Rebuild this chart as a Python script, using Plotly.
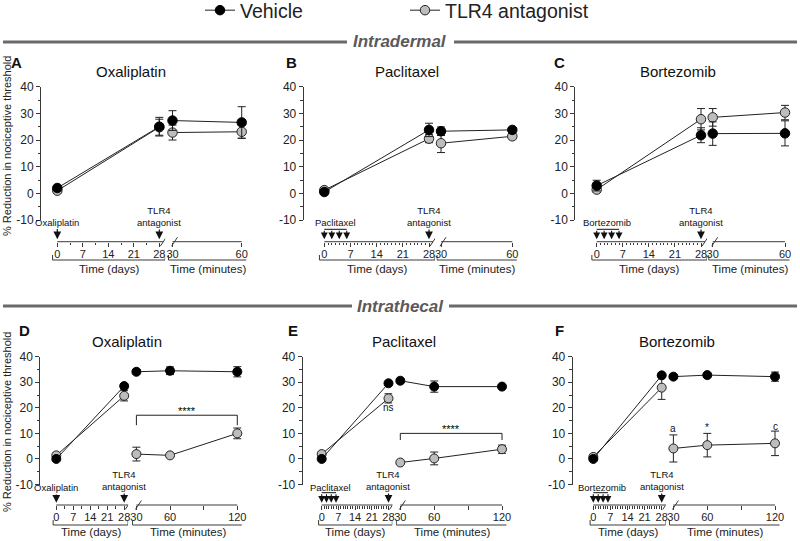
import plotly.graph_objects as go

W, H = 800, 541
FONT = "Liberation Sans, Arial, Helvetica, sans-serif"
AX = "#3a3a3a"

# ------------------------- data -------------------------
days = [0, 28]
minutes_id = [30, 60]
minutes_it = [30, 60, 120]

titles = ["Oxaliplatin", "Paclitaxel", "Bortezomib", "Oxaliplatin", "Paclitaxel", "Bortezomib"]
letters = ["A", "B", "C", "D", "E", "F"]
series_names = ["Vehicle", "TLR4 antagonist"]

# Panel A - intradermal oxaliplatin
a_veh_days = [2.0, 25.0]
a_veh_days_err = [1.0, 3.5]
a_tlr_days = [1.0, 24.8]
a_tlr_days_err = [1.0, 3.0]
a_veh_min = [27.3, 26.6]
a_veh_min_err = [3.7, 5.9]
a_tlr_min = [22.8, 23.1]
a_tlr_min_err = [2.8, 2.5]

# Panel B - intradermal paclitaxel
b_veh_days = [0.5, 23.8]
b_veh_days_err = [0.8, 2.5]
b_tlr_days = [1.2, 20.5]
b_tlr_days_err = [0.8, 1.5]
b_veh_min = [23.3, 23.8]
b_veh_min_err = [1.6, 0.8]
b_tlr_min = [18.8, 21.4]
b_tlr_min_err = [3.5, 1.0]

# Panel C - intradermal bortezomib
c_veh_days = [2.9, 21.8]
c_veh_days_err = [2.0, 2.8]
c_tlr_days = [1.4, 27.8]
c_tlr_days_err = [1.0, 4.0]
c_veh_min = [22.4, 22.5]
c_veh_min_err = [4.4, 4.7]
c_tlr_min = [28.5, 30.3]
c_tlr_min_err = [3.3, 2.7]

# Panel D - intrathecal oxaliplatin
d_veh_days = [0.0, 28.5]
d_veh_days_err = [0.5, 1.0]
d_tlr_days = [1.4, 24.7]
d_tlr_days_err = [0.8, 2.0]
d_veh_min = [34.1, 34.5, 34.1]
d_veh_min_err = [0.8, 1.5, 2.0]
d_tlr_min = [1.9, 1.4, 10.0]
d_tlr_min_err = [2.7, 0.6, 2.1]

# Panel E - intrathecal paclitaxel
e_veh_days = [0.0, 29.6]
e_veh_days_err = [0.5, 0.8]
e_tlr_days = [1.9, 23.7]
e_tlr_days_err = [0.8, 1.8]
e_veh_min = [30.6, 28.3, 28.3]
e_veh_min_err = [0.8, 2.2, 0.8]
e_tlr_min = [-1.4, 0.2, 3.8]
e_tlr_min_err = [0.6, 2.5, 1.6]

# Panel F - intrathecal bortezomib
f_veh_days = [0.0, 32.7]
f_veh_days_err = [0.5, 0.8]
f_tlr_days = [0.8, 27.9]
f_tlr_days_err = [0.8, 4.6]
f_veh_min = [32.2, 32.8, 32.2]
f_veh_min_err = [0.8, 0.8, 1.8]
f_tlr_min = [4.1, 5.4, 6.1]
f_tlr_min_err = [5.3, 4.6, 4.8]

y_tickvals = [-10, 0, 10, 20, 30, 40]
y_minor = [-5, 5, 15, 25, 35]
day_tickvals = [0, 7, 14, 21, 28]
day_ticktext = ["0", "7", "14", "21", "28"]
min_tickvals_id = [30, 60]
min_ticktext_id = ["30", "60"]
min_tickvals_it = [30, 60, 90, 120]
min_ticktext_it = ["30", "60", "", "120"]
multi_dose_days = [0, 2, 4, 6]

panels = [
    dict(vd=a_veh_days, vde=a_veh_days_err, td=a_tlr_days, tde=a_tlr_days_err,
         vm=a_veh_min, vme=a_veh_min_err, tm=a_tlr_min, tme=a_tlr_min_err, mins=minutes_id),
    dict(vd=b_veh_days, vde=b_veh_days_err, td=b_tlr_days, tde=b_tlr_days_err,
         vm=b_veh_min, vme=b_veh_min_err, tm=b_tlr_min, tme=b_tlr_min_err, mins=minutes_id),
    dict(vd=c_veh_days, vde=c_veh_days_err, td=c_tlr_days, tde=c_tlr_days_err,
         vm=c_veh_min, vme=c_veh_min_err, tm=c_tlr_min, tme=c_tlr_min_err, mins=minutes_id),
    dict(vd=d_veh_days, vde=d_veh_days_err, td=d_tlr_days, tde=d_tlr_days_err,
         vm=d_veh_min, vme=d_veh_min_err, tm=d_tlr_min, tme=d_tlr_min_err, mins=minutes_it),
    dict(vd=e_veh_days, vde=e_veh_days_err, td=e_tlr_days, tde=e_tlr_days_err,
         vm=e_veh_min, vme=e_veh_min_err, tm=e_tlr_min, tme=e_tlr_min_err, mins=minutes_it),
    dict(vd=f_veh_days, vde=f_veh_days_err, td=f_tlr_days, tde=f_tlr_days_err,
         vm=f_veh_min, vme=f_veh_min_err, tm=f_tlr_min, tme=f_tlr_min_err, mins=minutes_it),
]

# ------------------------- geometry (pixels) -------------------------
def px(x):
    return x / W


def py(y):
    return 1 - y / H


rows = [
    dict(y40=86.7, ym10=220.0, xline=241.7, bracket=260.0, tlabel=268.5, ylab=146, msize=9.5,
         drug_y=222.0, comb_y=229.3, tip=239.3, tlr_y=216.5, title_y=71.7, letter_y=62.5),
    dict(y40=356.7, ym10=484.5, xline=505.0, bracket=525.0, tlabel=532.0, ylab=422, msize=9,
         drug_y=487.5, comb_y=492.7, tip=502.8, tlr_y=480.5, title_y=341.7, letter_y=330.0),
]

geo = [
    dict(row=0, yax=40.0, d0=57.3, d28=159.3, m30=172.5, mend=241.7, endv=60, tx=130.7, lx=9, single=True, drug_x=60.0, minor_dense=False),
    dict(row=0, yax=302.7, d0=324.3, d28=429.0, m30=441.0, mend=512.3, endv=60, tx=407.3, lx=284, single=False, drug_x=335.7, minor_dense=True),
    dict(row=0, yax=574.3, d0=596.7, d28=701.0, m30=712.7, mend=785.0, endv=60, tx=677.5, lx=552, single=False, drug_x=607.0, minor_dense=True),
    dict(row=1, yax=39.3, d0=56.3, d28=124.2, m30=136.4, mend=237.3, endv=120, tx=127.0, lx=17, single=True, drug_x=57.5, minor_dense=False),
    dict(row=1, yax=301.7, d0=321.7, d28=388.5, m30=400.3, mend=502.0, endv=120, tx=404.0, lx=286, single=False, drug_x=330.5, minor_dense=True),
    dict(row=1, yax=571.7, d0=593.3, d28=661.7, m30=673.4, mend=775.0, endv=120, tx=676.7, lx=553, single=False, drug_x=601.5, minor_dense=True),
]

fig = go.Figure()
layout = dict(
    width=W, height=H, margin=dict(l=0, r=0, t=0, b=0, autoexpand=False),
    paper_bgcolor="white", plot_bgcolor="rgba(0,0,0,0)",
    font=dict(family=FONT, color="#222"),
    showlegend=True,
    legend=dict(orientation="h", x=px(200), y=py(10.5), xanchor="left", yanchor="middle",
                font=dict(size=19.5, color="#222"), entrywidth=160, entrywidthmode="pixels",
                bgcolor="rgba(0,0,0,0)", traceorder="normal", itemclick=False),
)
shapes = []
annotations = []

VEH_MARK = "#000000"
TLR_MARK = "#bdbdbd"

for i, (g, p) in enumerate(zip(geo, panels)):
    r = rows[g["row"]]
    yn = i + 1
    xd = 2 * i + 1
    xm = 2 * i + 2
    yref = "y" if yn == 1 else f"y{yn}"
    xdref = "x" if xd == 1 else f"x{xd}"
    xmref = f"x{xm}"
    yname = "yaxis" if yn == 1 else f"yaxis{yn}"
    xdname = "xaxis" if xd == 1 else f"xaxis{xd}"
    xmname = f"xaxis{xm}"

    sd = (g["d28"] - g["d0"]) / 28.0
    sm = (g["mend"] - g["m30"]) / (g["endv"] - 30.0)
    dr = [-2.0, 29.6]
    mpad = 4.5 / sm
    mr = [30 - mpad, g["endv"] + mpad]

    layout[yname] = dict(
        domain=[py(r["ym10"]), py(r["y40"])], range=[-10, 40], anchor="free", position=px(g["yax"]),
        showline=True, linecolor=AX, linewidth=1, ticks="outside", ticklen=4, tickwidth=1, tickcolor=AX,
        tickmode="array", tickvals=y_tickvals, ticktext=[str(v) for v in y_tickvals],
        tickfont=dict(size=12, color="#222"),
        minor=dict(tickmode="array", tickvals=y_minor, ticks="outside", ticklen=2.5, tickcolor=AX, showgrid=False),
        showgrid=False, zeroline=False, fixedrange=True,
    )
    if g["minor_dense"]:
        dminor = [d for d in range(1, 28) if d % 7 != 0]
    else:
        dminor = [3.5, 10.5, 17.5, 24.5]
    layout[xdname] = dict(
        domain=[px(g["d0"] + dr[0] * sd), px(g["d0"] + dr[1] * sd)], range=dr,
        anchor="free", position=py(r["xline"]), showline=False,
        ticks="outside", ticklen=4, tickwidth=1, tickcolor=AX, ticklabelstandoff=-2,
        tickmode="array", tickvals=day_tickvals, ticktext=day_ticktext,
        tickfont=dict(size=11, color="#222"),
        minor=dict(tickmode="array", tickvals=dminor, ticks="outside", ticklen=2.5, tickcolor=AX, showgrid=False),
        showgrid=False, zeroline=False, fixedrange=True,
    )
    if g["endv"] == 60:
        mtv, mtt = min_tickvals_id, min_ticktext_id
    else:
        mtv, mtt = min_tickvals_it, min_ticktext_it
    layout[xmname] = dict(
        domain=[px(g["m30"] + (mr[0] - 30) * sm), px(g["m30"] + (mr[1] - 30) * sm)], range=mr,
        anchor="free", position=py(r["xline"]), showline=False,
        ticks="outside", ticklen=4, tickwidth=1, tickcolor=AX, ticklabelstandoff=-2,
        tickmode="array", tickvals=mtv, ticktext=mtt,
        tickfont=dict(size=11, color="#222"),
        showgrid=False, zeroline=False, fixedrange=True,
    )

    ms = r["msize"]
    # traces: TLR4 first (behind), vehicle on top
    for name, key, fill, rank in [("TLR4 antagonist", "t", TLR_MARK, 2), ("Vehicle", "v", VEH_MARK, 1)]:
        for xs, xr, sfx in [(days, xdref, "d"), (p["mins"], xmref, "m")]:
            fig.add_trace(go.Scatter(
                x=xs, y=p[key + sfx], xaxis=xr, yaxis=yref, mode="lines+markers",
                name=name, legendrank=rank,
                showlegend=(i == 0 and sfx == "d"),
                line=dict(color="#222", width=1),
                marker=dict(size=ms, color=fill, line=dict(color="#222" if key == "t" else "#000", width=1)),
                error_y=dict(type="data", array=p[key + sfx + "e"], color="#222", thickness=1, width=4),
                cliponaxis=False, hoverinfo="skip",
            ))

    # axis lines with breaks
    xl = py(r["xline"])
    dend = 28 + 4.0 / sd
    shapes.append(dict(type="line", xref=xdref, yref="paper", x0=0, x1=dend, y0=xl, y1=xl,
                       line=dict(color=AX, width=1)))
    shapes.append(dict(type="line", xref=xmref, yref="paper", x0=30, x1=g["endv"], y0=xl, y1=xl,
                       line=dict(color=AX, width=1)))
    for xr, xa in [(xdref, dend), (xmref, 30 + 2.0 / sm)]:
        shapes.append(dict(type="line", xref=xr, yref="paper", xsizemode="pixel", ysizemode="pixel",
                           xanchor=xa, yanchor=xl, x0=-3, x1=3, y0=-4.5, y1=4.5,
                           line=dict(color=AX, width=1)))

    # brackets under tick labels
    yb = py(r["bracket"])
    yb2 = py(r["bracket"] - 5)
    bl, brr = -1.3, 29.6
    shapes.append(dict(type="path", xref=xdref, yref="paper",
                       path=f"M {bl},{yb2} L {bl},{yb} L {brr},{yb} L {brr},{yb2}",
                       line=dict(color=AX, width=1)))
    ml, mrr = 30 - 4.0 / sm, g["endv"] + 5.5 / sm
    shapes.append(dict(type="path", xref=xmref, yref="paper",
                       path=f"M {ml},{yb2} L {ml},{yb} L {mrr},{yb} L {mrr},{yb2}",
                       line=dict(color=AX, width=1)))
    dcx = g["d0"] + (bl + brr) / 2 * sd
    mcx = g["m30"] + ((ml + mrr) / 2 - 30) * sm
    annotations.append(dict(text="Time (days)", x=px(dcx), y=py(r["tlabel"]), xref="paper", yref="paper",
                            showarrow=False, font=dict(size=11.5, color="#222"), xanchor="center", yanchor="middle"))
    annotations.append(dict(text="Time (minutes)", x=px(mcx), y=py(r["tlabel"]), xref="paper", yref="paper",
                            showarrow=False, font=dict(size=11.5, color="#222"), xanchor="center", yanchor="middle"))

    # title and letter
    annotations.append(dict(text=titles[i], x=px(g["tx"]), y=py(r["title_y"]), xref="paper", yref="paper",
                            showarrow=False, font=dict(size=15, color="#111"), xanchor="center", yanchor="middle"))
    annotations.append(dict(text=f"<b>{letters[i]}</b>", x=px(g["lx"]), y=py(r["letter_y"]), xref="paper", yref="paper",
                            showarrow=False, font=dict(size=15, color="#111"), xanchor="left", yanchor="middle"))

    # dosing arrows
    tip = py(r["tip"])
    if g["single"]:
        annotations.append(dict(text=titles[i], x=0, y=tip, xref=xdref, yref="paper",
                                showarrow=True, ax=0, ay=-(r["tip"] - r["drug_y"]), arrowhead=2, arrowsize=1.3,
                                arrowwidth=1.2, arrowcolor="#111", standoff=0, startstandoff=0,
                                font=dict(size=9.5, color="#111")))
    else:
        annotations.append(dict(text=titles[i], x=px(g["drug_x"]), y=py(r["drug_y"]), xref="paper", yref="paper",
                                showarrow=False, font=dict(size=9.5, color="#111"), xanchor="center", yanchor="middle"))
        yc = py(r["comb_y"])
        shapes.append(dict(type="line", xref=xdref, yref="paper", x0=multi_dose_days[0], x1=multi_dose_days[-1],
                           y0=yc, y1=yc, line=dict(color="#111", width=1)))
        for dd in multi_dose_days:
            annotations.append(dict(text="", x=dd, y=tip, xref=xdref, yref="paper", showarrow=True,
                                    ax=0, ay=-(r["tip"] - r["comb_y"]), arrowhead=2, arrowsize=1.25,
                                    arrowwidth=1.1, arrowcolor="#111", standoff=0))
    annotations.append(dict(text="TLR4<br>antagonist", x=28, y=tip, xref=xdref, yref="paper",
                            showarrow=True, ax=0, ay=-(r["tip"] - r["tlr_y"]), arrowhead=2, arrowsize=1.3,
                            arrowwidth=1.2, arrowcolor="#111", standoff=0,
                            font=dict(size=9.5, color="#111")))

    # y-axis label (left column only)
    if g["yax"] < 100:
        annotations.append(dict(text="% Reduction in nociceptive threshold", x=px(7), y=py(r["ylab"]),
                                xref="paper", yref="paper", showarrow=False, textangle=-90,
                                font=dict(size=11, color="#222"), xanchor="center", yanchor="middle"))

# significance marks
def sig_bracket(xr, yr, x0, x1, ytop, ybot, label, lab_y):
    shapes.append(dict(type="path", xref=xr, yref=yr,
                       path=f"M {x0},{ybot} L {x0},{ytop} L {x1},{ytop} L {x1},{ybot}",
                       line=dict(color="#222", width=1)))
    annotations.append(dict(text=label, x=(x0 + x1) / 2, y=lab_y, xref=xr, yref=yr, showarrow=False,
                            font=dict(size=11, color="#000000"), xanchor="center", yanchor="middle"))

sig_bracket("x8", "y4", 30, 120, 17.1, 13.2, "****", 18.9)
sig_bracket("x10", "y5", 30, 120, 10.0, 7.4, "****", 11.8)
annotations.append(dict(text="ns", x=28, y=20.2, xref="x9", yref="y5", showarrow=False,
                        font=dict(size=10, color="#111"), xanchor="center", yanchor="middle"))
for mx, lab, yy in [(30, "a", 11.8), (60, "*", 12.4), (120, "c", 12.6)]:
    annotations.append(dict(text=lab, x=mx, y=yy, xref="x12", yref="y6", showarrow=False,
                            font=dict(size=10, color="#111"), xanchor="center", yanchor="middle"))

# section headers
for ytxt, label, lend, rstart in [(42, "Intradermal", 347, 454), (306, "Intrathecal", 352, 449)]:
    yy = py(ytxt)
    shapes.append(dict(type="line", xref="paper", yref="paper", x0=px(3), x1=px(lend), y0=yy, y1=yy,
                       line=dict(color="#6a6a6a", width=3)))
    shapes.append(dict(type="line", xref="paper", yref="paper", x0=px(rstart), x1=px(797), y0=yy, y1=yy,
                       line=dict(color="#6a6a6a", width=3)))
    annotations.append(dict(text=f"<b><i>{label}</i></b>", x=0.5, y=yy, xref="paper", yref="paper",
                            showarrow=False, font=dict(size=17, color="#5a5a5a"), xanchor="center", yanchor="middle"))

layout["shapes"] = shapes
layout["annotations"] = annotations
fig.update_layout(**layout)
fig.write_html("out.html", config={"displayModeBar": False},
               post_script="document.body.style.margin='0';document.body.style.overflow='hidden';")
